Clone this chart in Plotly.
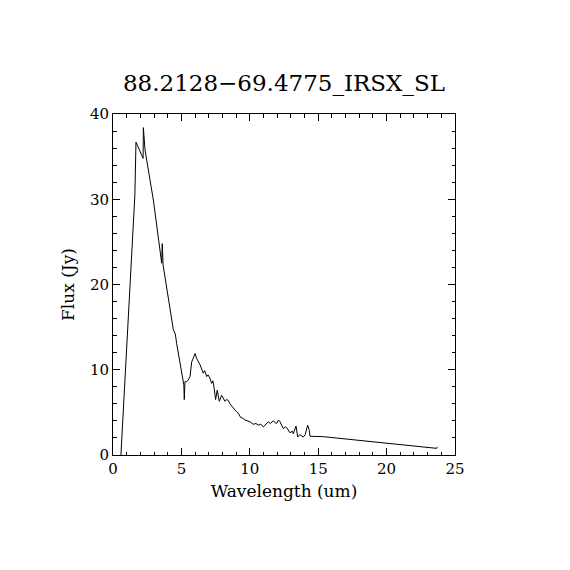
import plotly.graph_objects as go

# spectrum
wavelength = [0.58, 1.6, 1.68, 2.2, 2.22, 2.34, 2.95, 3.56, 3.6, 3.66, 4.41, 4.55, 4.6, 4.65,
              5.18, 5.21, 5.26, 5.38, 5.5, 5.63, 5.75, 5.92, 6.0, 6.12, 6.25, 6.36, 6.45,
              6.6, 6.7, 6.85, 6.95, 7.09, 7.21, 7.3, 7.4, 7.5, 7.62, 7.77, 7.94, 8.05,
              8.19, 8.3, 8.43, 8.55, 8.68, 8.85, 9.04, 9.2, 9.33, 9.5, 9.65, 9.8, 10.01,
              10.26, 10.45, 10.62, 10.8, 10.99, 11.15, 11.35, 11.5, 11.72, 11.85, 11.96,
              12.1, 12.21, 12.45, 12.6, 12.7, 12.94, 13.1, 13.18, 13.38, 13.5, 13.65,
              13.79, 13.91, 14.05, 14.23, 14.35, 14.4, 15.37, 23.66, 23.7]
flux = [0.0, 30.5, 36.7, 34.8, 38.4, 35.8, 29.9, 22.5, 24.8, 22.3, 14.7, 14.2, 13.7, 13.1,
        8.2, 6.5, 8.6, 8.6, 8.8, 9.2, 10.9, 11.7, 11.9, 11.3, 11.0, 10.6, 10.2,
        9.6, 9.9, 9.2, 9.4, 9.0, 8.4, 8.7, 7.8, 6.5, 7.6, 6.3, 7.0, 6.6,
        6.3, 6.5, 6.4, 6.0, 5.7, 5.4, 5.1, 4.8, 4.4, 4.3, 4.1, 4.0, 3.9,
        3.6, 3.7, 3.5, 3.6, 3.3, 3.6, 3.9, 3.7, 4.0, 3.8, 3.7,
        4.1, 3.9, 3.1, 3.3, 3.2, 2.6, 2.8, 2.5, 3.4, 2.1, 2.4,
        2.2, 2.1, 2.4, 3.5, 2.9, 2.2, 2.15, 0.78, 0.95]

title = "88.2128\u221269.4775_IRSX_SL"
font_name = "DejaVu Serif"

fig = go.Figure()
fig.add_trace(go.Scatter(x=wavelength, y=flux, mode="lines",
                         line=dict(color="black", width=1), showlegend=False))

axis_style = dict(
    showline=True, linecolor="black", linewidth=1, mirror="ticks",
    ticks="inside", ticklen=7, tickwidth=1, tickcolor="black",
    showgrid=False, zeroline=False,
    tickfont=dict(family=font_name, size=15, color="black"),
)

fig.update_xaxes(range=[0, 25], dtick=5,
                 minor=dict(dtick=1, ticks="inside", ticklen=3.5, tickcolor="black", showgrid=False),
                 title=dict(text="Wavelength (um)", font=dict(family=font_name, size=17, color="black"),
                            standoff=8),
                 **axis_style)
fig.update_yaxes(range=[0, 40], dtick=10,
                 minor=dict(dtick=2, ticks="inside", ticklen=3.5, tickcolor="black", showgrid=False),
                 title=dict(text="Flux (Jy)", font=dict(family=font_name, size=17, color="black"),
                            standoff=10),
                 **axis_style)

# the page body adds 8px, so margins are shifted back by that much
fig.update_layout(
    width=570, height=570,
    margin=dict(l=105, r=123, t=106, b=123),
    paper_bgcolor="white", plot_bgcolor="white",
    title=dict(text=title, x=0.5, xanchor="center", xref="paper",
               y=1 - 75 / 570, yanchor="middle",
               font=dict(family=font_name, size=23, color="black")),
)

fig.write_html("out.html")
